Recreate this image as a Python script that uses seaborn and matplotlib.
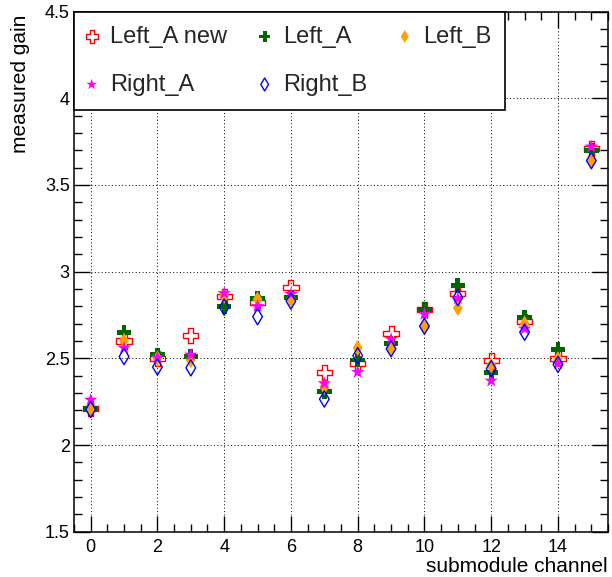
import matplotlib
matplotlib.use("Agg")
import matplotlib.pyplot as plt
from matplotlib.ticker import MultipleLocator
import seaborn as sns
import pandas as pd

channels = list(range(16))
left_a_new = [2.21, 2.60, 2.50, 2.63, 2.855, 2.82, 2.91, 2.42, 2.47, 2.645, 2.78, 2.875, 2.485, 2.71, 2.50, 3.71]
left_a = [2.21, 2.65, 2.52, 2.51, 2.80, 2.845, 2.85, 2.31, 2.49, 2.585, 2.78, 2.92, 2.42, 2.735, 2.55, 3.70]
left_b = [2.205, 2.60, 2.50, 2.49, 2.86, 2.84, 2.84, 2.335, 2.56, 2.56, 2.685, 2.79, 2.46, 2.70, 2.495, 3.64]
right_a = [2.26, 2.56, 2.505, 2.52, 2.875, 2.80, 2.87, 2.355, 2.42, 2.61, 2.755, 2.845, 2.37, 2.67, 2.47, 3.72]
right_b = [2.205, 2.51, 2.45, 2.445, 2.795, 2.74, 2.83, 2.265, 2.515, 2.555, 2.685, 2.85, 2.44, 2.65, 2.465, 3.64]
series_names = ["Left_A new", "Left_A", "Left_B", "Right_A", "Right_B"]
x_label = "submodule channel"
y_label = "measured gain"

sns.set_theme(style="white")
plt.rcParams["font.family"] = ["Liberation Sans", "DejaVu Sans"]

fig = plt.figure(figsize=(6.12, 5.77), dpi=100)
ax = fig.add_axes([0.1209, 0.0785, 0.8726, 0.9015])

styles = [
    dict(marker="P", s=121, color="#FF0000", filled=False),
    dict(marker="P", s=110, color="#006600", filled=True),
    dict(marker="d", s=68, color="#FF9F00", filled=True),
    dict(marker="*", s=105, color="#FF00FF", filled=True),
    dict(marker="d", s=68, color="#0000FF", filled=False),
]
values = [left_a_new, left_a, left_b, right_a, right_b]

handles = []
for name, vals, st in zip(series_names, values, styles):
    df = pd.DataFrame({"channel": channels, "gain": vals})
    sns.scatterplot(data=df, x="channel", y="gain", ax=ax, marker=st["marker"],
                    s=st["s"], color=st["color"], label=name, zorder=3,
                    linewidth=0 if st["filled"] else 1.0)
    coll = ax.collections[-1]
    if st["filled"]:
        coll.set_edgecolor("none")
    else:
        coll.set_facecolor("none")
        coll.set_edgecolor(st["color"])
        coll.set_linewidth(1.0)
    handles.append(coll)

ax.set_xlim(-0.5, 15.5)
ax.set_ylim(1.5, 4.5)
ax.xaxis.set_major_locator(MultipleLocator(2))
ax.xaxis.set_minor_locator(MultipleLocator(0.5))
ax.yaxis.set_major_locator(MultipleLocator(0.5))
ax.yaxis.set_minor_locator(MultipleLocator(0.1))
ax.yaxis.set_major_formatter(matplotlib.ticker.FuncFormatter(lambda v, p: f"{v:g}"))

ax.tick_params(which="both", direction="in", top=True, right=True, bottom=True, left=True,
               width=1.0, color="black", labelsize=13, labelcolor="black")
ax.tick_params(which="major", length=11.5)
ax.tick_params(which="minor", length=5.8)
ax.tick_params(axis="x", which="major", pad=5)
ax.tick_params(axis="y", which="major", pad=3)

for sp in ax.spines.values():
    sp.set_visible(True)
    sp.set_color("black")
    sp.set_linewidth(1.1)

ax.grid(True, which="major", color="black", linestyle=(0, (1, 2.5)), linewidth=0.7)

ax.set_xlabel(x_label, fontsize=15, color="black")
ax.set_ylabel(y_label, fontsize=15, color="black")
ax.xaxis.set_label_coords(1.0, -0.0775)
ax.xaxis.label.set_horizontalalignment("right")
ax.xaxis.label.set_verticalalignment("baseline")
ax.yaxis.set_label_coords(-0.1, 0.995)
ax.yaxis.label.set_horizontalalignment("right")
ax.yaxis.label.set_verticalalignment("center")

# row-wise order for a 3-column legend
order = [0, 3, 1, 4, 2]
leg = ax.legend([handles[i] for i in order], [series_names[i] for i in order],
                loc="upper left", bbox_to_anchor=(0.0, 1.0), borderaxespad=0.0, ncol=3,
                fontsize=17, frameon=True, fancybox=False, shadow=False, markerscale=0.8,
                handlelength=0.3, handletextpad=0.62, columnspacing=1.45, borderpad=0.6,
                labelspacing=1.1)
leg.get_frame().set_edgecolor("black")
leg.get_frame().set_linewidth(1.2)
leg.get_frame().set_facecolor("white")
leg.get_frame().set_alpha(1.0)
leg.set_zorder(10)

fig.savefig("out.png", dpi=100)
